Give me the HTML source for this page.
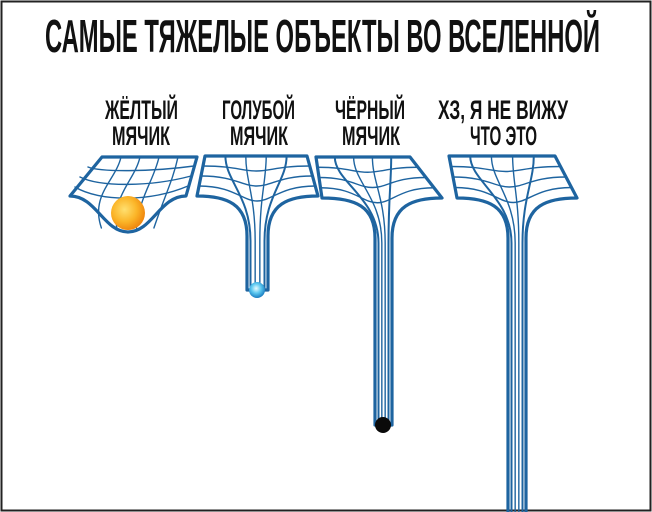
<!DOCTYPE html>
<html><head><meta charset="utf-8"><style>
html,body{margin:0;padding:0;background:#fff;}
svg{display:block;}
text{font-family:"Liberation Sans Narrow","Liberation Sans",sans-serif;font-weight:bold;fill:#111;}
</style></head><body>
<svg id="s" width="652" height="512" viewBox="0 0 652 512" xmlns="http://www.w3.org/2000/svg">
<rect x="1.5" y="1.5" width="649" height="509" fill="#fff" stroke="#222" stroke-width="2"/>
<text x="45" y="52" font-size="46" textLength="555" lengthAdjust="spacingAndGlyphs">САМЫЕ ТЯЖЕЛЫЕ ОБЪЕКТЫ ВО ВСЕЛЕННОЙ</text>
<g font-size="27">
<text x="105" y="119" textLength="73" lengthAdjust="spacingAndGlyphs">ЖЁЛТЫЙ</text>
<text x="112" y="145" textLength="58" lengthAdjust="spacingAndGlyphs">МЯЧИК</text>
<text x="222" y="119" textLength="73" lengthAdjust="spacingAndGlyphs">ГОЛУБОЙ</text>
<text x="230" y="145" textLength="58" lengthAdjust="spacingAndGlyphs">МЯЧИК</text>
<text x="335" y="119" textLength="70" lengthAdjust="spacingAndGlyphs">ЧЁРНЫЙ</text>
<text x="342" y="145" textLength="58" lengthAdjust="spacingAndGlyphs">МЯЧИК</text>
<text x="438" y="119" textLength="130" lengthAdjust="spacingAndGlyphs">ХЗ, Я НЕ ВИЖУ</text>
<text x="470" y="145" textLength="67" lengthAdjust="spacingAndGlyphs">ЧТО ЭТО</text>
</g>
<defs>
<radialGradient id="sun" cx="0.4" cy="0.4" r="0.6"><stop offset="0" stop-color="#ffe070"/><stop offset="0.6" stop-color="#fbb528"/><stop offset="1" stop-color="#f08a10"/></radialGradient>
<radialGradient id="bl" cx="0.45" cy="0.4" r="0.6"><stop offset="0" stop-color="#e8fbff"/><stop offset="0.5" stop-color="#5cc8f0"/><stop offset="1" stop-color="#1a7cc0"/></radialGradient>
</defs>
<g id="g" fill="none" stroke="#1e64a0" stroke-linecap="round" stroke-linejoin="round"></g>
<circle cx="128" cy="213" r="17" fill="url(#sun)"/>
<circle cx="257" cy="290" r="8" fill="url(#bl)"/>
<circle cx="383" cy="425" r="8" fill="#0a0a0a"/>
</svg>
<script>
var g=document.getElementById('g');var ns='http://www.w3.org/2000/svg';
function P(d,w,c){var p=document.createElementNS(ns,'path');p.setAttribute('d',d);p.setAttribute('stroke-width',w);if(c)p.setAttribute('stroke',c);g.appendChild(p);}
function L(a,b,t){return a+(b-a)*t;}
function funnel(TL,TR,BR,BL,nL,nR,nB){
 var ty=TL[1],by=BL[1];
 P('M'+TL+' L'+TR+' L'+BR+' C'+(nR+20)+','+by+' '+nR+','+(by+8)+' '+nR+','+(by+40)+' L'+nR+','+nB+' L'+nL+','+nB+' L'+nL+','+(by+40)+' C'+nL+','+(by+8)+' '+(nL-20)+','+by+' '+BL+' Z',3.2);
 for(var j=1;j<=3;j++){var t=j/4,y=L(ty,by,t),lx=L(TL[0],BL[0],t),rx=L(TR[0],BR[0],t),cx=(lx+rx)/2;
  P('M'+lx+','+y+' C'+L(lx,rx,.3)+','+y+' '+(cx-15)+','+(y+j*5)+' '+cx+','+(y+j*5)+' C'+(cx+15)+','+(y+j*5)+' '+L(lx,rx,.7)+','+y+' '+rx+','+y,1.4);}
 for(var i=1;i<=4;i++){var tx=L(TL[0],TR[0],i/5),nx=L(nL+3.5,nR-3.5,(i-1)/3);
  P('M'+tx+','+ty+' C'+tx+','+(ty+25)+' '+nx+','+(by)+' '+nx+','+(by+45)+' L'+nx+','+nB,i==1||i==4?2:1.4);}
}
P('M102,157 L197,157 L186,196 C160,196 152,232 128,232 C104,232 96,196 70,196 Z',3.2);
[[88,167,194,166],[80,177,191,176],[75,187,188,186]].forEach(function(a,j){P('M'+a[0]+','+a[1]+' C100,'+(a[1]+5*(j+1))+' 150,'+(a[1]+5*(j+1))+' '+a[2]+','+a[3],1.4);});
[[121,90],[140,112],[159,140],[178,165]].forEach(function(a){P('M'+a[0]+',157 C'+(a[0]-5)+',180 '+a[1]+',195 '+(a[1]+(128-a[1])*0.3)+',228',1.4);});
funnel([205,156],[307,156],[318,196],[197,196],247,268,290);
funnel([316,157],[410,157],[442,198],[322,198],375,392,425);
funnel([449,156],[555,156],[577,198],[457,198],508,526,520);
</script>
</body></html>
